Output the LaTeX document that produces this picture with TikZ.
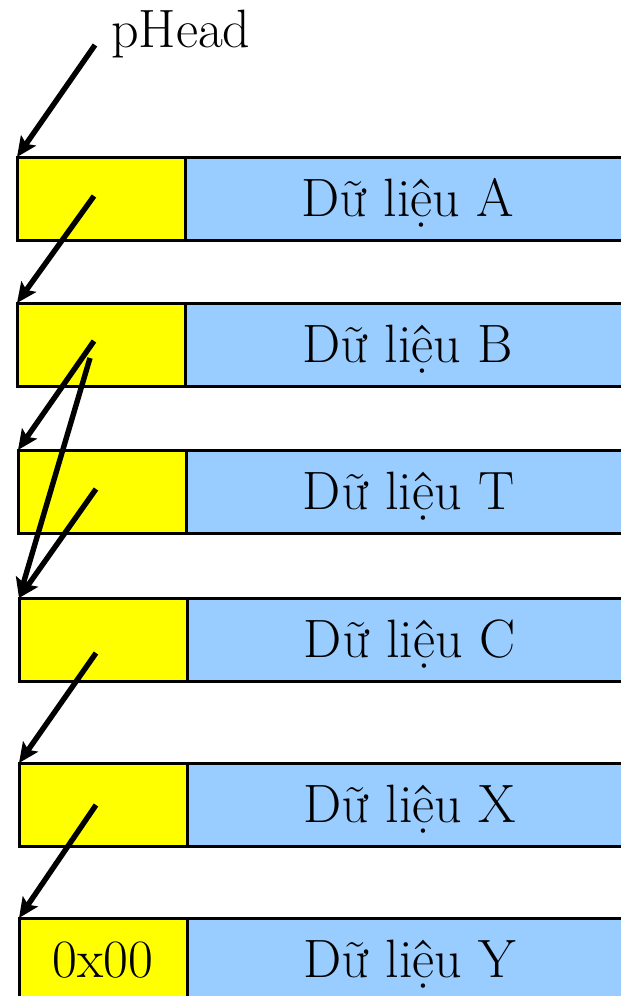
\documentclass[tikz,border=0pt]{standalone}
\usetikzlibrary{arrows.meta}
\definecolor{ptrfill}{HTML}{FFFF00}
\definecolor{datafill}{HTML}{99CCFF}
\begin{document}
\begin{tikzpicture}[x=1pt,y=-1pt,
  every node/.style={font=\fontsize{54}{64}\selectfont},
  ptrbox/.style={draw=black, line width=3pt, fill=ptrfill, anchor=north west,
    minimum width=168pt, minimum height=83pt, inner sep=0pt, outer sep=0pt,
    text height=35pt, text depth=0pt},
  databox/.style={draw=black, line width=3pt, fill=datafill, anchor=north west,
    minimum width=445pt, minimum height=83pt, inner sep=0pt, outer sep=0pt,
    text height=35pt, text depth=0pt},
  link/.style={line width=5.4pt, -{Stealth[length=20pt,width=18pt,inset=4pt]}}]
\clip (0,0) rectangle (621,996);
\useasboundingbox (0,0) rectangle (621,996);

% list cells: pointer part (yellow) and data part (blue)
\node[ptrbox]  (pA) at (17,157) {};
\node[databox] (dA) at (pA.north east) {Dữ liệu A};
\node[ptrbox]  (pB) at (17,303) {};
\node[databox] (dB) at (pB.north east) {Dữ liệu B};
\node[ptrbox]  (pT) at (18,450) {};
\node[databox] (dT) at (pT.north east) {Dữ liệu T};
\node[ptrbox]  (pC) at (19,598) {};
\node[databox] (dC) at (pC.north east) {Dữ liệu C};
\node[ptrbox]  (pX) at (19,763) {};
\node[databox] (dX) at (pX.north east) {Dữ liệu X};
\node[ptrbox]  (pY) at (19,918) {0x00};
\node[databox] (dY) at (pY.north east) {Dữ liệu Y};

% head pointer label
\node[anchor=base west, inner sep=0pt] (head) at (111,47) {pHead};

% starting points of the links
\coordinate (sH)  at (95,45);
\coordinate (sA)  at (94,196);
\coordinate (sB1) at (94,341);
\coordinate (sB2) at (90,358);
\coordinate (sT)  at (96,489);
\coordinate (sC)  at (96,653);
\coordinate (sX)  at (96,805);

% links
\draw[link] (sH)  -- (pA.north west);
\draw[link] (sA)  -- (pB.north west);
\draw[link] (sB1) -- (pT.north west);
\draw[link] (sB2) -- (pC.north west);
\draw[link] (sT)  -- (pC.north west);
\draw[link] (sC)  -- (pX.north west);
\draw[link] (sX)  -- (pY.north west);
\end{tikzpicture}
\end{document}
